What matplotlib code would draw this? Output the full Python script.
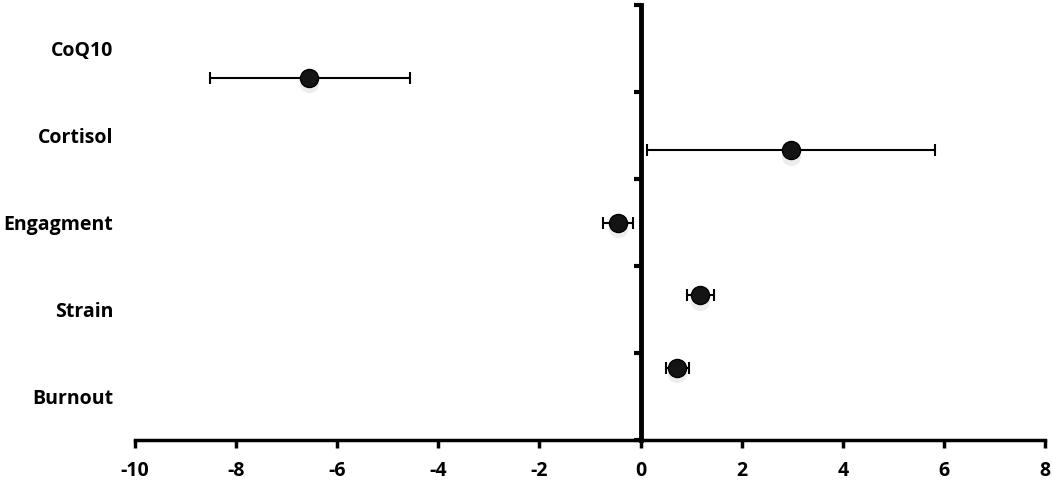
import matplotlib
matplotlib.use("Agg")
import matplotlib.pyplot as plt
import matplotlib.transforms as mtransforms
import numpy as np

# data, top to bottom
labels = ["CoQ10", "Cortisol", "Engagment", "Strain", "Burnout"]
means = [-6.55, 2.97, -0.45, 1.18, 0.72]
lower = [-8.52, 0.12, -0.75, 0.92, 0.50]
upper = [-4.56, 5.82, -0.15, 1.45, 0.95]
xticks = [-10, -8, -6, -4, -2, 0, 2, 4, 6, 8]

plt.rcParams["font.family"] = ["Open Sans", "DejaVu Sans"]

fig = plt.figure(figsize=(10.52, 4.82), dpi=100)
ax = fig.add_axes([135/1052, 42/482, 910/1052, 435/482])

n = len(labels)
ypos = np.arange(n, 0, -1)          # points at 5..1 on a 0..6 scale
xerr = [np.array(means) - np.array(lower), np.array(upper) - np.array(means)]

# soft shadow under the markers
ax.plot(means, ypos - 0.08, "o", ms=14, color="#bbbbbb", alpha=0.25, zorder=2,
        markeredgewidth=0)
ax.errorbar(means, ypos, xerr=xerr, fmt="o", ms=13, color="black",
            mfc="#141414", mec="black", ecolor="black", elinewidth=1.5,
            capsize=4.5, capthick=1.5, zorder=3)

ax.set_xlim(-10, 8)
ax.set_ylim(0, 6)
ax.set_xticks(xticks)
ax.set_xticklabels([str(t) for t in xticks], fontsize=14, fontweight="bold")

# category ticks on the vertical axis (bar-chart style), labels on the left
cat_edges = np.linspace(0, 6, n + 1)
ax.set_yticks(cat_edges)
ax.set_yticklabels([])
trans = mtransforms.blended_transform_factory(ax.transAxes, ax.transData)
for i, lab in enumerate(labels):
    yc = (cat_edges[n - i] + cat_edges[n - i - 1]) / 2
    ax.text(-0.024, yc - 0.03, lab, transform=trans, ha="right", va="center",
            fontsize=14, fontweight="bold")

ax.spines["top"].set_visible(False)
ax.spines["right"].set_visible(False)
ax.spines["left"].set_position(("data", 0))
ax.spines["left"].set_linewidth(3.5)
ax.spines["bottom"].set_linewidth(2.5)
ax.tick_params(axis="y", direction="out", length=5, width=3, left=True)
ax.tick_params(axis="x", direction="out", length=6, width=2.5, pad=9)

fig.savefig("out.png", dpi=100)
